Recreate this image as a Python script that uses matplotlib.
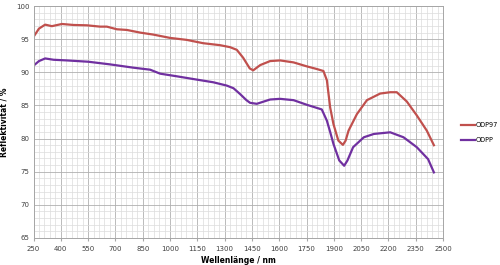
import numpy as np
import matplotlib.pyplot as plt

# wavelengths (nm) and reflectivity (%)
wl_odp97 = [250, 280, 314, 351, 406, 470, 543, 616, 653, 708, 763, 836, 908, 1000,
            1092, 1182, 1275, 1330, 1367, 1402, 1438, 1457, 1496, 1550, 1605, 1679,
            1752, 1807, 1843, 1862, 1880, 1898, 1925, 1950, 1965, 1981, 2027, 2082,
            2155, 2210, 2246, 2301, 2356, 2411, 2450]
r_odp97 = [95.35, 96.6, 97.2, 96.97, 97.3, 97.15, 97.1, 96.9, 96.9, 96.5, 96.4, 96.0,
           95.7, 95.2, 94.9, 94.4, 94.1, 93.8, 93.4, 92.2, 90.6, 90.3, 91.1, 91.7,
           91.8, 91.5, 90.9, 90.5, 90.2, 88.8, 84.7, 82.2, 79.7, 79.05, 79.7, 81.2,
           83.7, 85.8, 86.8, 87.0, 87.0, 85.6, 83.5, 81.2, 79.0]

wl_odpp = [250, 280, 314, 360, 433, 552, 671, 800, 891, 946, 1038, 1148, 1238, 1312,
           1349, 1386, 1420, 1440, 1477, 1550, 1605, 1679, 1752, 1834, 1862, 1880,
           1898, 1930, 1957, 1975, 2006, 2065, 2120, 2210, 2283, 2356, 2418, 2450]
r_odpp = [91.0, 91.7, 92.1, 91.9, 91.8, 91.6, 91.2, 90.7, 90.4, 89.8, 89.4, 88.9,
          88.5, 88.0, 87.6, 86.7, 85.8, 85.4, 85.25, 85.9, 86.0, 85.8, 85.1, 84.4,
          82.7, 81.0, 79.2, 76.7, 75.9, 76.7, 78.7, 80.2, 80.7, 80.95, 80.2, 78.7,
          76.9, 74.9]

fig = plt.figure(figsize=(5, 2.65), dpi=100)
ax = fig.add_axes([0.067, 0.102, 0.819, 0.875])

ax.plot(wl_odp97, r_odp97, color='#C0504D', lw=1.6, label='ODP97')
ax.plot(wl_odpp, r_odpp, color='#7030A0', lw=1.6, label='ODPP')

ax.set_xlim(250, 2500)
ax.set_ylim(65, 100)
ax.set_xticks(np.arange(250, 2501, 150))
ax.set_yticks(np.arange(65, 101, 5))
ax.set_xticks(np.arange(250, 2501, 30), minor=True)
ax.set_yticks(np.arange(65, 101, 1), minor=True)
ax.grid(which='major', color='#b0b0b0', lw=0.6)
ax.grid(which='minor', color='#dcdcdc', lw=0.5)
ax.set_axisbelow(True)
ax.tick_params(which='both', length=0, labelsize=5, colors='#404040', pad=3)
ax.tick_params(axis='x', which='major', length=2.5, color='#a6a6a6')
for s in ax.spines.values():
    s.set_color('#a6a6a6')
    s.set_linewidth(0.7)

ax.set_xlabel('Wellenlänge / nm', fontsize=5.5, fontweight='bold', labelpad=3)
ax.set_ylabel('Reflektivität / %', fontsize=5.5, fontweight='bold', labelpad=5)

fig.legend(loc='upper left', bbox_to_anchor=(0.922, 0.54), frameon=False,
           fontsize=4.7, handlelength=2.2, handletextpad=0.1, labelspacing=1.4,
           borderaxespad=0, borderpad=0)

fig.savefig('out.png', dpi=100)
